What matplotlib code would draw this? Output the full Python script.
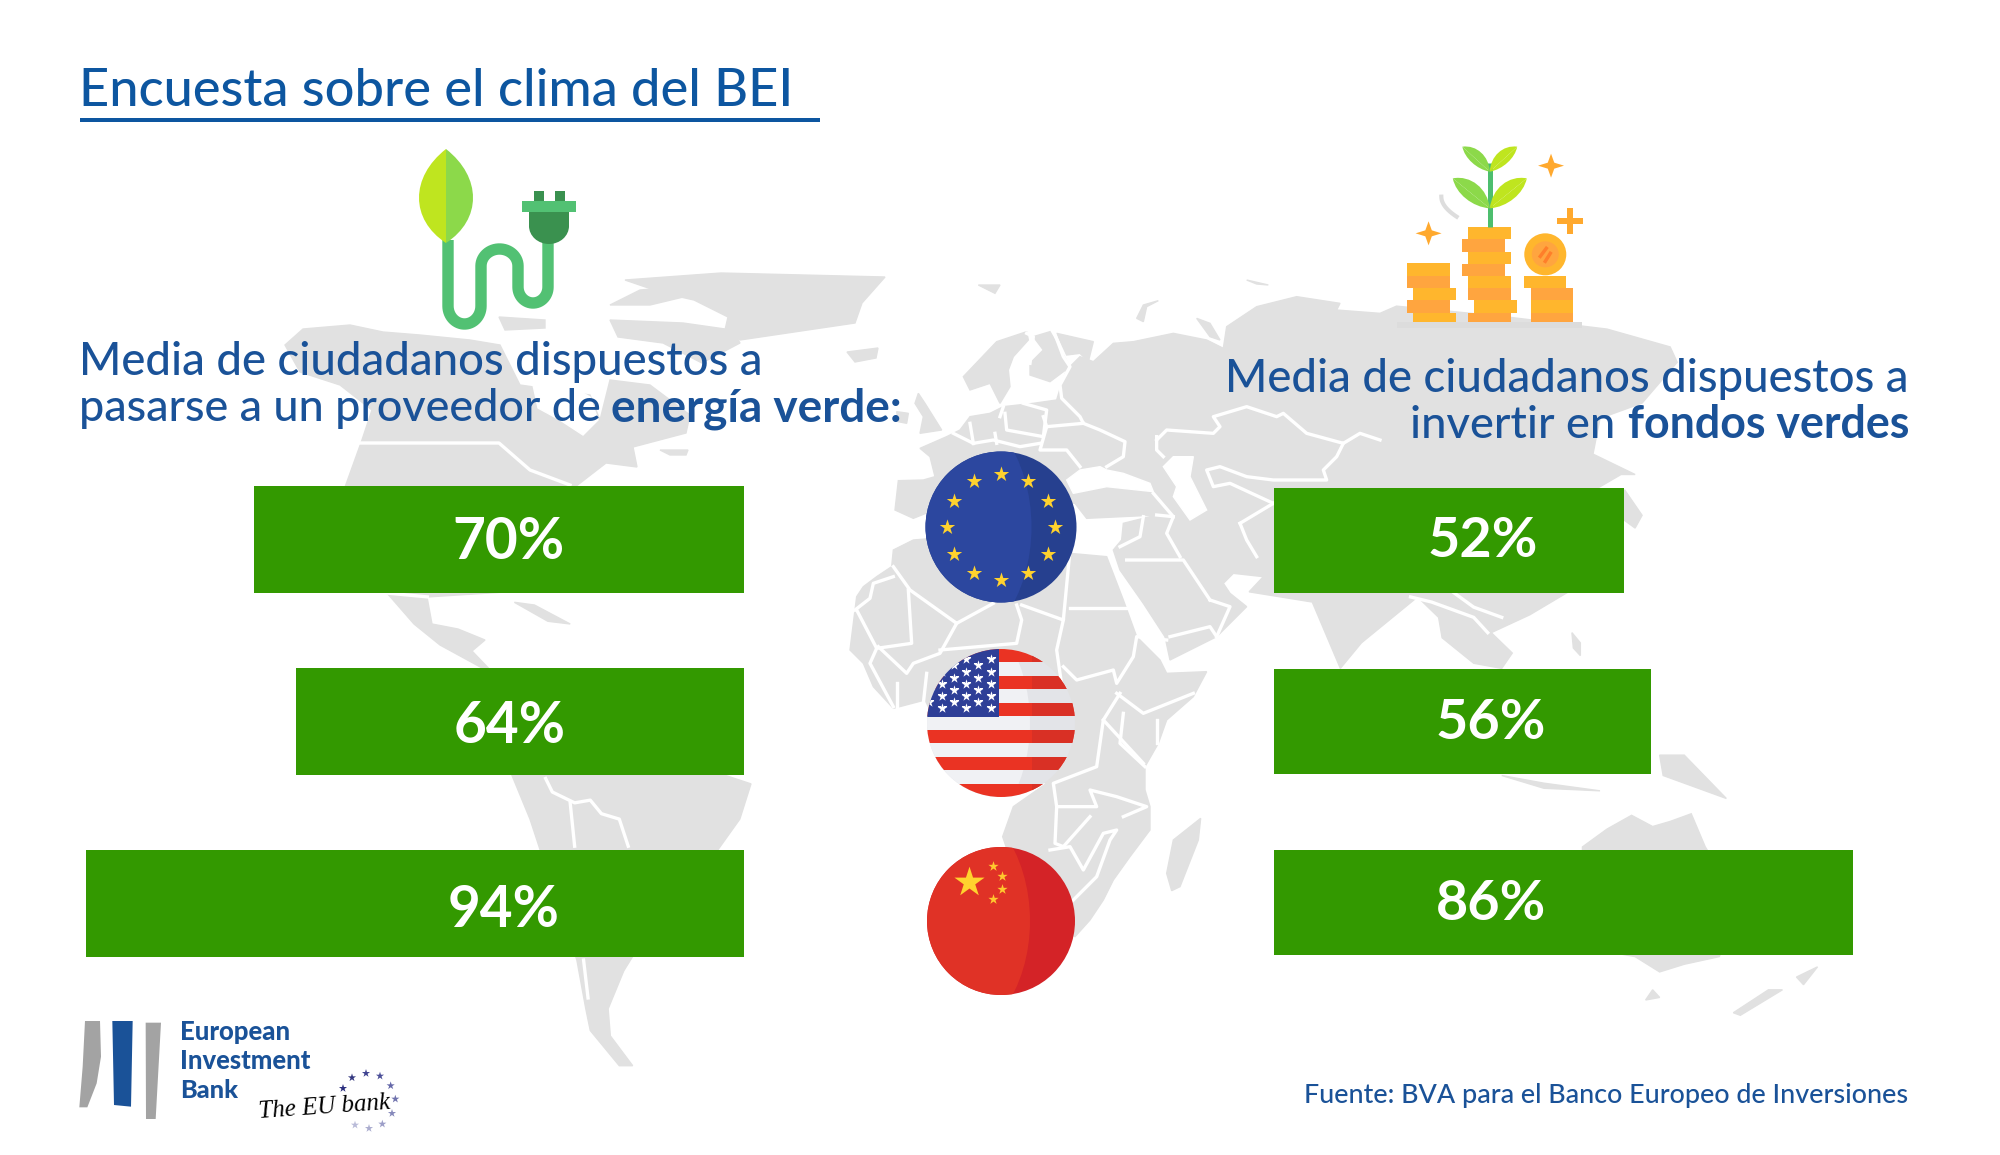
import numpy as np
import matplotlib
matplotlib.use("Agg")
import matplotlib.pyplot as plt
from matplotlib.patches import Polygon, Circle, Ellipse, Rectangle, PathPatch
from matplotlib.path import Path

# ---------- data ----------
regions = ["UE", "EE. UU.", "China"]
green_energy = [70, 64, 94]
green_funds = [52, 56, 86]
title = "Encuesta sobre el clima del BEI"
source = "Fuente: BVA para el Banco Europeo de Inversiones"

W, H = 2000, 1155
BAR = "#339900"
BLUE = "#1A5298"
TITLE_BLUE = "#0D56A0"
MAP = "#E1E1E1"
FONT = "Lato"

fig = plt.figure(figsize=(W / 100, H / 100), dpi=100, facecolor="white")
ax = fig.add_axes([0, 0, 1, 1])
ax.set_xlim(0, W)
ax.set_ylim(H, 0)
ax.axis("off")
renderer = fig.canvas.get_renderer()


def z5(p):
    return [(280 + x / 2.24, 250 + y / 1.845) for x, y in p]


def z6(p):
    return [(800 + x / 1.425, 250 + y / 1.96) for x, y in p]


def ze(p):
    return [(880 + x / 3, 270 + y / 3) for x, y in p]


def za(p):
    return [(850 + x / 3, 540 + y / 3) for x, y in p]


def land(p):
    ax.add_patch(Polygon(p, closed=True, fc=MAP, ec=MAP, lw=1, zorder=1))


def sea(p):
    ax.add_patch(Polygon(p, closed=True, fc="white", ec="white", lw=1, zorder=1.5))


def border(p, lw=2.4):
    xs, ys = zip(*p)
    ax.plot(xs, ys, color="white", lw=lw, zorder=2, solid_joinstyle="round")


# ---------- world map ----------
# North America
land([(344, 490), (362, 440), (372, 410), (340, 385), (300, 372), (285, 345), (303, 329),
      (350, 325), (383, 332), (420, 335), (470, 340), (500, 345), (520, 385), (590, 395), (600, 420), (583, 435),
      (600, 420), (610, 380), (650, 385), (690, 415), (686, 433), (633, 447), (637, 467), (606, 463),
      (575, 487), (550, 540), (520, 590), (505, 592), (427, 597), (432, 624), (458, 629),
      (485, 640), (472, 651), (495, 675), (440, 645), (414, 624), (387, 593)])
sea([(533, 385), (560, 380), (590, 397), (598, 420), (583, 435), (560, 420), (538, 408)])
land([(625, 280), (721, 273), (885, 277), (862, 303), (855, 323), (740, 340), (725, 330), (728, 317), (694, 300), (663, 293)])
land([(610, 320), (683, 323), (732, 330), (740, 343), (702, 363), (663, 343), (618, 337)])
land([(610, 305), (640, 290), (700, 285), (700, 293), (650, 305)])
land([(499, 317), (545, 320), (545, 328), (505, 330)])
land([(660, 450), (688, 450), (686, 455), (670, 455)])
land(z5([(525, 650), (570, 655), (650, 690), (600, 685)]))
land([(847, 352), (878, 348), (876, 358), (855, 362)])
# South America
land(z5([(515, 960), (700, 930), (1000, 970), (1055, 985), (1030, 1050), (900, 1200), (800, 1290), (770, 1330),
         (735, 1400), (740, 1450), (790, 1505), (760, 1505), (695, 1440), (685, 1400), (665, 1310), (620, 1200),
         (560, 1050)]))
# Eurasia
land(ze([(45, 720), (55, 632), (130, 630), (165, 620), (150, 560), (120, 535), (200, 500), (240, 480), (270, 440), (330, 430),
         (370, 410), (460, 400), (530, 390), (545, 340), (560, 300), (600, 260), (640, 275), (700, 220), (760, 215),
         (880, 190), (980, 210), (1030, 235), (1040, 170), (1130, 110), (1250, 80), (1380, 100), (1370, 120), (1500, 130)])
     + z6([(850, 110), (1000, 130), (1150, 155), (1240, 190), (1250, 220), (1200, 300), (1140, 330), (1130, 400), (1190, 440),
           (1170, 440), (1120, 480), (1130, 560), (1095, 670), (1040, 715), (985, 750), (1015, 790), (1000, 820), (960, 810),
           (915, 760), (910, 720), (880, 680), (800, 770), (770, 820), (730, 690), (640, 670)])
     + za([(1240, 110), (1150, 100), (1120, 130), (1140, 160), (1190, 200), (1100, 290), (960, 360), (945, 290), (880, 190),
           (810, 90), (790, 30)])
     + ze([(725, 810), (730, 760), (830, 735), (620, 745), (585, 700), (500, 700), (300, 740), (150, 725), (100, 745)]))
sea(ze([(560, 630), (600, 600), (660, 590), (680, 600), (730, 610), (810, 640), (820, 665), (680, 650), (580, 670)]))
sea(ze([(850, 590), (880, 560), (940, 560), (930, 620), (980, 720), (930, 750), (880, 680), (890, 650)]))
land(ze([(250, 320), (350, 215), (440, 185), (445, 210), (400, 260), (385, 300), (390, 350), (360, 400), (330, 340), (270, 360)]))
land(ze([(460, 200), (510, 185), (570, 290), (510, 335), (450, 315), (450, 280), (490, 240)]))
land(ze([(530, 190), (640, 215), (625, 275), (600, 250), (560, 255)]))
land(ze([(950, 145), (990, 160), (1020, 210), (990, 200)]))
land(ze([(770, 145), (790, 105), (835, 92), (800, 110), (790, 155)]))
land(ze([(295, 45), (360, 45), (345, 70)]))
land(ze([(1100, 30), (1165, 45), (1130, 42)]))
land(ze([(115, 370), (135, 400), (185, 480), (120, 490), (130, 440), (105, 400)]))
land(ze([(50, 425), (85, 430), (80, 460), (55, 455)]))
# Africa and Madagascar
land(za([(15, 210), (20, 170), (40, 140), (80, 110), (125, 80), (130, 30), (190, 0), (430, -20), (660, 40), (770, 50), (820, 180),
         (860, 290), (930, 360), (950, 400), (1070, 395), (1030, 470), (950, 540), (925, 610), (885, 680), (885, 750), (900, 800),
         (900, 870), (840, 950), (790, 1020), (760, 1080), (720, 1140), (675, 1190), (520, 1100), (470, 925), (458, 890), (490, 800),
         (590, 730), (500, 700), (400, 520), (240, 510), (225, 480), (130, 505), (70, 440), (40, 370), (0, 330)]))
land(za([(1052, 835), (1045, 900), (990, 1040), (965, 1052), (950, 1000), (970, 900)]))
# Asia-Pacific
land(z6([(1115, 1170), (1150, 1135), (1185, 1108), (1215, 1130), (1240, 1120), (1270, 1105), (1290, 1170), (1340, 1280),
         (1310, 1385), (1260, 1400), (1225, 1415), (1190, 1385), (1130, 1370), (1115, 1300)]))
land(z6([(1225, 990), (1260, 990), (1320, 1075), (1270, 1050), (1230, 1030)]))
land(z6([(1000, 1030), (1060, 1045), (1140, 1060), (1060, 1055)]))
land(z6([(1100, 750), (1112, 770), (1112, 795), (1102, 780)]))
land(z6([(1175, 470), (1200, 520), (1190, 545), (1175, 530)]))
land(z6([(1450, 1405), (1430, 1440), (1420, 1425)]))
land(z6([(1400, 1450), (1340, 1500), (1330, 1495), (1380, 1450)]))
land(z6([(1215, 1450), (1225, 1465), (1205, 1470)]))

for b in [[(595, 975), (610, 1000), (660, 1020), (695, 1015), (720, 1040), (760, 1050), (780, 1100)],
          [(650, 1020), (660, 1100)], [(680, 1310), (690, 1380)], [(240, 633), (330, 640)]]:
    border(z5(b))
for b in [[(357, 443), (499, 443), (530, 470), (570, 485)]]:
    border(b)
for b in [[(520, 180), (550, 260), (570, 290), (540, 345), (545, 385), (600, 440), (610, 460), (660, 480), (735, 515), (730, 560), (680, 590)],
          [(500, 470), (610, 460)], [(490, 440), (500, 470), (480, 540), (560, 540), (600, 590)],
          [(375, 430), (380, 480), (490, 500)], [(270, 460), (280, 520)], [(280, 520), (340, 510), (420, 530), (480, 520)],
          [(345, 490), (350, 520)], [(220, 490), (280, 520)], [(430, 400), (500, 420), (490, 500)], [(370, 410), (360, 440)],
          [(440, 190), (460, 200), (450, 280)],
          [(830, 500), (830, 540), (850, 560)],
          [(830, 510), (860, 480), (1000, 490), (1020, 470), (1000, 440), (1100, 410), (1190, 440), (1210, 430), (1280, 490), (1390, 520), (1440, 490), (1500, 510)],
          [(1390, 520), (1370, 560), (1330, 600), (1340, 630), (1180, 630), (1100, 620), (1020, 590), (980, 600), (1000, 650), (1050, 640), (1180, 700)],
          [(820, 670), (880, 740), (860, 790), (900, 860)], [(1080, 760), (1100, 810), (1130, 860)], [(1180, 700), (1080, 760)],
          [(790, 740), (780, 800), (720, 830)], [(830, 735), (880, 740)]]:
    border(ze(b))
for b in [[(130, 80), (180, 150), (320, 250), (430, 190)], [(175, 150), (185, 310), (80, 325), (20, 210)], [(15, 210), (60, 175), (70, 130), (130, 110)],
          [(320, 250), (270, 340), (190, 370), (170, 400), (85, 320)], [(500, 195), (515, 240), (500, 310), (270, 330)],
          [(515, 195), (640, 240), (660, 30)], [(640, 240), (620, 330), (640, 470)], [(660, 205), (840, 205)],
          [(640, 380), (680, 420), (790, 390), (800, 430), (850, 350), (860, 290), (950, 300)], [(800, 460), (880, 520), (1030, 460)],
          [(810, 460), (760, 540), (740, 680), (610, 730), (620, 800), (740, 800), (720, 750), (800, 770), (890, 800), (820, 830)],
          [(760, 540), (880, 670)], [(820, 520), (810, 610), (885, 680)], [(920, 540), (920, 610)],
          [(620, 800), (615, 910), (640, 920), (720, 830)], [(600, 930), (660, 920), (700, 990), (760, 880), (800, 870), (780, 900), (740, 1010), (660, 1090)],
          [(80, 325), (60, 370), (130, 500)], [(140, 430), (140, 500)], [(230, 400), (220, 490)],
          [(1100, 290), (1080, 260), (960, 290)], [(1080, 180), (1140, 200), (1100, 290)], [(830, 60), (1000, 60), (1080, 180)]]:
    border(za(b))
for b in [[(870, 680), (900, 690), (960, 720), (980, 750)], [(1000, 720), (960, 700), (930, 670)]]:
    border(z6(b))

# ---------- bars, each side on its own value axis ----------
row_h = 182
ax_l = fig.add_axes([44 / W, 1 - (903 + row_h / 2) / H, 700 / W, 3 * row_h / H], zorder=3)
ax_l.set_xlim(100, 0)
ax_l.set_ylim(2.5, -0.5)
ax_l.barh(range(len(regions)), green_energy, height=107 / row_h, color=BAR)
ax_r = fig.add_axes([1274 / W, 1 - (902.5 + 181 / 2) / H, 673 / W, 3 * 181 / H], zorder=3)
ax_r.set_xlim(0, 100)
ax_r.set_ylim(2.5, -0.5)
ax_r.barh(range(len(regions)), green_funds, height=105 / 181, color=BAR)
for a in (ax_l, ax_r):
    a.axis("off")
    a.patch.set_alpha(0)

ax_txt = fig.add_axes([0, 0, 1, 1], zorder=5)
ax_txt.set_xlim(0, W)
ax_txt.set_ylim(H, 0)
ax_txt.axis("off")
ax_txt.patch.set_alpha(0)


def fit(x0, x1, base, s, weight="medium", color=BLUE, style="normal"):
    t = ax_txt.text(x0, base, s, fontsize=30, family=FONT, weight=weight, color=color, va="baseline", ha="left",
                    style=style)
    w = t.get_window_extent(renderer).width
    t.set_fontsize(30 * (x1 - x0) / w)
    return t


label_l_x = [508, 510, 504]
label_l_y = [559, 743, 927]
label_r_x = [1483, 1491, 1491]
label_r_y = [557, 739, 920]
for v, x, y in zip(green_energy, label_l_x, label_l_y):
    fit(x - 56, x + 56, y, f"{v}%", weight="bold", color="white")
for v, x, y in zip(green_funds, label_r_x, label_r_y):
    fit(x - 55, x + 55, y, f"{v}%", weight="bold", color="white")

# ---------- texts ----------
fit(79, 791, 106, title, color=TITLE_BLUE)
ax_txt.add_patch(Rectangle((80, 117.8), 740, 4.5, fc=TITLE_BLUE, ec="none"))
fit(79, 763, 375, "Media de ciudadanos dispuestos a")
fit(79, 600, 421, "pasarse a un proveedor de")
fit(611, 902, 421, "energía verde:", weight="bold")
fit(1225, 1909, 392, "Media de ciudadanos dispuestos a")
fit(1410, 1615, 438, "invertir en")
fit(1628, 1909, 438, "fondos verdes", weight="bold")
fit(1304, 1907, 1103, source)


# ---------- flags ----------
def flag_disc(cx, cy, r, light, dark):
    base = Circle((cx, cy), r, fc=dark, ec="none", zorder=4)
    ax_txt.add_patch(base)
    over = Ellipse((cx - 62, cy), 2 * (r + 17), 3.4 * r, fc=light, ec="none", zorder=4.1)
    ax_txt.add_patch(over)
    over.set_clip_path(base)
    return base


eu = flag_disc(1001, 527, 75.5, "#2C479F", "#26408F")
ang = np.deg2rad(np.arange(0, 360, 30))
ax_txt.scatter(1001 + 54 * np.sin(ang), 527 - 53 * np.cos(ang), marker="*", s=135, c="#FFD22E", linewidths=0, zorder=4.5)

us = flag_disc(1001, 723, 74, "#F0F1F4", "#E3E4E8")
for i in range(0, 11):
    y0 = 649 + i * 13.45
    if i % 2 == 0:
        s = Rectangle((920, y0), 160, 13.45, fc="#EA3323", ec="none", zorder=4.2)
        ax_txt.add_patch(s)
        s.set_clip_path(us)
        s2 = Rectangle((1032, y0), 50, 13.45, fc="#D93025", ec="none", zorder=4.25)
        ax_txt.add_patch(s2)
        s2.set_clip_path(us)
canton = Rectangle((920, 649), 79, 68, fc="#2E3F97", ec="none", zorder=4.3)
ax_txt.add_patch(canton)
canton.set_clip_path(us)
sx, sy = [], []
for j in range(9):
    for k in range(7):
        if (j + k) % 2 == 0:
            sx.append(990.7 - 12.3 * k)
            sy.append(659.3 + 6.1 * j)
st = ax_txt.scatter(sx, sy, marker="*", s=55, c="white", linewidths=0, zorder=4.5)
st.set_clip_path(us)

cn = flag_disc(1001, 921, 74, "#E03226", "#D42327")
ax_txt.scatter([969], [882], marker="*", s=520, c="#FFD22E", linewidths=0, zorder=4.5)
ax_txt.scatter([993, 1002, 1002, 993], [866, 876, 889, 899], marker="*", s=60, c="#FFC82E", linewidths=0, zorder=4.5)


# ---------- icons ----------
def leaf(p0, p1, bulge, color, z=4):
    p0, p1 = np.array(p0, float), np.array(p1, float)
    d = p1 - p0
    n = np.array([-d[1], d[0]]) / np.hypot(*d) * bulge
    c1, c2 = p0 + d * 0.3 + n, p0 + d * 0.75 + n
    path = Path([p0, c1, c2, p1, p0], [Path.MOVETO, Path.CURVE4, Path.CURVE4, Path.CURVE4, Path.CLOSEPOLY])
    ax_txt.add_patch(PathPatch(path, fc=color, ec="none", zorder=z))


leaf((446, 149), (446, 243), 36, "#BFE51F")
leaf((446, 149), (446, 243), -36, "#8CD94A")


def arc(x0, x1, y0, depth, n=30):
    t = np.linspace(0, np.pi, n)
    return (x0 + x1) / 2 - (x1 - x0) / 2 * np.cos(t), y0 + depth * np.sin(t)


xs1, ys1 = arc(448, 481, 306, 18)
xs2, ys2 = arc(481, 518, 266, -17)
xs3, ys3 = arc(518, 548, 287, 16)
cx = np.r_[448, xs1, xs2, xs3, 548]
cy = np.r_[240, ys1, ys2, ys3, 240]
ax_txt.plot(cx, cy, color="#52C173", lw=8.2, solid_capstyle="butt", zorder=3.9)
for x in (534, 555):
    ax_txt.add_patch(Rectangle((x, 191), 10, 11, fc="#3A914F", ec="none", zorder=4))
ax_txt.add_patch(Rectangle((529, 211), 40, 16, fc="#3A914F", ec="none", zorder=4))
ax_txt.add_patch(Ellipse((549, 226), 40, 36, fc="#3A914F", ec="none", zorder=4))
ax_txt.add_patch(Rectangle((522, 201), 54, 11, fc="#52C173", ec="none", zorder=4.1))


def zc(x, y):
    return 1000 + x / 1.568, 100 + y / 3


def coin(x0, x1, y0, y1, color, z=4):
    a, b = zc(x0, y0)
    c, d = zc(x1, y1)
    ax_txt.add_patch(Rectangle((a, b), c - a, d - b, fc=color, ec="none", zorder=z))


C1, C2 = "#FFB62D", "#FFA53F"
stacks = [[(638, 705, 490, 527), (638, 705, 527, 564), (648, 715, 564, 601), (638, 705, 601, 638), (648, 715, 638, 666)],
          [(734, 802, 381, 418), (725, 792, 418, 455), (734, 802, 455, 491), (725, 792, 491, 527), (734, 802, 527, 564),
           (734, 802, 564, 601), (744, 811, 601, 638), (734, 802, 638, 666)],
          [(822, 888, 528, 565), (832, 898, 565, 601), (832, 898, 601, 638), (832, 898, 638, 666)]]
for stack in stacks:
    for i, r in enumerate(stack):
        coin(*r, C1 if i % 2 == 0 else C2)
coin(622, 913, 666, 684, "#DCDCDC")
ex, ey = zc(855, 463)
ax_txt.add_patch(Ellipse((ex, ey), 42, 42, fc=C1, ec="none", zorder=4))
ax_txt.add_patch(Ellipse((ex, ey), 27, 26, fc="#FFA53F", ec="none", zorder=4.1))
ax_txt.plot([ex - 5, ex + 1], [ey + 2, ey - 6], color="#FF7F2A", lw=2.5, zorder=4.2)
ax_txt.plot([ex + 5, ex], [ey - 1, ey + 7], color="#FF7F2A", lw=2.5, zorder=4.2)
sx0, sy0 = zc(768, 190)
sx1, sy1 = zc(768, 381)
ax_txt.plot([sx0, sx1], [sy0, sy1], color="#4DBE6E", lw=3.6, zorder=4, solid_capstyle="butt")
leaf(zc(768, 215), zc(725, 140), 11, "#8CD94A")
leaf(zc(768, 215), zc(725, 140), -7, "#8CD94A")
leaf(zc(768, 215), zc(811, 140), -11, "#BFE51F")
leaf(zc(768, 215), zc(811, 140), 7, "#BFE51F")
leaf(zc(768, 325), zc(710, 235), 14, "#8CD94A")
leaf(zc(768, 325), zc(710, 235), -10, "#8CD94A")
leaf(zc(768, 325), zc(826, 235), -14, "#BFE51F")
leaf(zc(768, 325), zc(826, 235), 10, "#BFE51F")


def sparkle(x, y, w, h):
    c = np.array(zc(x, y))
    pts = [(0, -h), (w * .25, -h * .25), (w, 0), (w * .25, h * .25), (0, h), (-w * .25, h * .25), (-w, 0), (-w * .25, -h * .25)]
    ax_txt.add_patch(Polygon(c + np.array(pts), fc="#FFA92E", ec="none", zorder=4))


sparkle(864, 197, 13, 12)
sparkle(672, 400, 13, 12)
px, py = zc(893, 362)
ax_txt.add_patch(Rectangle((px - 13, py - 3), 26, 6, fc="#FFA92E", ec="none", zorder=4))
ax_txt.add_patch(Rectangle((px - 3, py - 13), 6, 26, fc="#FFA92E", ec="none", zorder=4))
gx = np.linspace(0, 1, 20)
gp = [zc(692 + 24 * v ** 2, 290 + 60 * v) for v in gx]
ax_txt.plot(*zip(*gp), color="#DDDDDD", lw=3, zorder=4)


# ---------- logo ----------
def z3(p):
    return [(x / 3, 950 + y / 3) for x, y in p]


ax_txt.add_patch(Polygon(z3([(255, 213), (300, 213), (303, 320), (290, 400), (262, 472), (238, 472), (248, 350)]),
                         fc="#A3A3A3", ec="none"))
ax_txt.add_patch(Polygon(z3([(337, 213), (398, 213), (393, 470), (342, 465)]), fc="#1A5298", ec="none"))
ax_txt.add_patch(Polygon(z3([(437, 218), (483, 218), (467, 507), (438, 507)]), fc="#A3A3A3", ec="none"))
fit(180, 290, 1040, "European", weight="black")
fit(180, 310, 1069, "Investment", weight="black")
fit(180, 238, 1098, "Bank", weight="black")
ax_txt.text(259, 1118, "The EU bank", family="Liberation Serif", style="italic", fontsize=18, color="black",
            rotation=4, rotation_mode="anchor", va="baseline", ha="left")
star_pts = z3([(1029, 415), (1056, 383), (1098, 370), (1140, 378), (1172, 407), (1186, 447), (1176, 490), (1147, 522), (1107, 535), (1065, 525)])
star_cols = ["#2B2F7F", "#33377F", "#3F4390", "#4B4F98", "#6467A8", "#6F72AD", "#8689BB", "#9C9EC8", "#ABADCF", "#B9BBD8"]
ax_txt.scatter(*zip(*star_pts), marker="*", s=38, c=star_cols, linewidths=0)

fig.savefig("out.png", dpi=100, facecolor="white")
